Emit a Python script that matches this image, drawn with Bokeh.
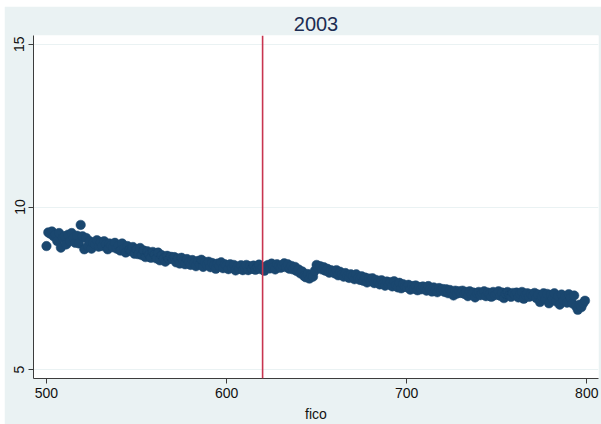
from bokeh.plotting import figure
from bokeh.models import Span, FixedTicker, Range1d
from bokeh.embed import file_html
from bokeh.resources import INLINE

title_text = "2003"
x_label = "fico"
cutoff = 620
x_ticks = [500, 600, 700, 800]
y_ticks = [5, 10, 15]

fico = list(range(500, 800))
rate = [
    8.80, 9.22, 9.18, 9.25, 9.10, 9.15, 8.95, 9.20, 8.75, 9.05,
    9.10, 8.85, 9.15, 8.95, 9.20, 9.05, 8.90, 9.12, 8.88, 9.45,
    9.10, 8.70, 9.05, 8.80, 8.95, 8.72, 8.90, 8.85, 8.98, 8.78,
    8.92, 8.80, 8.95, 8.85, 8.70, 8.88, 8.82, 8.76, 8.90, 8.72,
    8.82, 8.66, 8.88, 8.72, 8.60, 8.80, 8.68, 8.64, 8.77, 8.56,
    8.70, 8.55, 8.74, 8.52, 8.66, 8.46, 8.64, 8.54, 8.44, 8.62,
    8.54, 8.42, 8.60, 8.36, 8.52, 8.42, 8.32, 8.50, 8.40, 8.47,
    8.40, 8.46, 8.30, 8.42, 8.26, 8.44, 8.34, 8.24, 8.40, 8.31,
    8.22, 8.37, 8.28, 8.18, 8.34, 8.24, 8.38, 8.16, 8.30, 8.22,
    8.32, 8.15, 8.28, 8.20, 8.10, 8.26, 8.18, 8.30, 8.12, 8.24,
    8.20, 8.09, 8.24, 8.13, 8.22, 8.05, 8.17, 8.10, 8.21, 8.06,
    8.15, 8.22, 8.06, 8.18, 8.10, 8.20, 8.07, 8.16, 8.23, 8.09,
    8.13, 8.04, 8.17, 8.22, 8.11, 8.26, 8.14, 8.08, 8.24, 8.18,
    8.13, 8.22, 8.27, 8.15, 8.24, 8.10, 8.19, 8.08, 8.16, 8.03,
    8.08, 7.96, 8.02, 7.88, 7.84, 7.94, 7.80, 7.92, 7.86, 8.04,
    8.22, 8.12, 8.18, 8.08, 8.15, 8.04, 8.10, 7.98, 8.06, 8.02,
    7.96, 8.06, 7.90, 8.01, 7.92, 7.86, 7.97, 7.88, 7.82, 7.93,
    7.88, 7.78, 7.93, 7.82, 7.76, 7.87, 7.73, 7.83, 7.68, 7.80,
    7.72, 7.81, 7.66, 7.76, 7.69, 7.62, 7.75, 7.64, 7.58, 7.71,
    7.62, 7.69, 7.56, 7.72, 7.59, 7.53, 7.67, 7.50, 7.63, 7.55,
    7.54, 7.61, 7.46, 7.57, 7.49, 7.59, 7.44, 7.54, 7.47, 7.56,
    7.50, 7.43, 7.57, 7.47, 7.40, 7.53, 7.45, 7.38, 7.51, 7.44,
    7.48, 7.39, 7.47, 7.35, 7.45, 7.37, 7.28, 7.43, 7.34, 7.41,
    7.36, 7.43, 7.33, 7.39, 7.26, 7.41, 7.32, 7.37, 7.22, 7.35,
    7.39, 7.29, 7.36, 7.41, 7.26, 7.37, 7.31, 7.24, 7.39, 7.29,
    7.34, 7.41, 7.27, 7.37, 7.20, 7.33, 7.39, 7.29, 7.24, 7.36,
    7.30, 7.37, 7.22, 7.33, 7.39, 7.18, 7.30, 7.35, 7.24, 7.32,
    7.28, 7.36, 7.20, 7.31, 7.08, 7.26, 7.35, 7.16, 7.33, 7.04,
    7.30, 7.18, 7.35, 7.10, 7.27, 7.00, 7.31, 7.13, 7.25, 7.06,
    7.32, 7.20, 7.04, 7.28, 6.95, 6.84, 7.00, 6.92, 7.04, 7.12,
]

FONT = "Liberation Sans"
REGION = "#EAF2F3"
OUTER = "#F6F6EE"
NAVY = "#1A476F"

p = figure(width=597, height=418, output_backend="svg", toolbar_location=None,
           x_range=Range1d(492.8, 806.5), y_range=Range1d(4.73, 15.27),
           min_border_left=29, min_border_right=3, min_border_top=29,
           min_border_bottom=42)
p.margin = (6, 0, 0, 4)
p.background_fill_color = "white"
p.border_fill_color = REGION
p.outline_line_color = None

p.title.text = title_text
p.title.align = "center"
p.title.text_font = FONT
p.title.text_font_size = "20px"
p.title.text_font_style = "normal"
p.title.text_color = "#1C2C52"
p.title.offset = 0

p.xgrid.grid_line_color = None
p.ygrid.grid_line_color = REGION
p.ygrid.grid_line_width = 1.2
p.ygrid.ticker = FixedTicker(ticks=y_ticks)

for ax in (p.xaxis[0], p.yaxis[0]):
    ax.axis_line_color = "#3C3C3C"
    ax.major_tick_line_color = "#3C3C3C"
    ax.major_tick_out = 5
    ax.major_tick_in = 0
    ax.minor_tick_line_color = None
    ax.major_label_text_font = FONT
    ax.major_label_text_font_size = "14px"
    ax.major_label_text_color = "#111111"
    ax.axis_label_text_font = FONT
    ax.axis_label_text_font_size = "14px"
    ax.axis_label_text_font_style = "normal"
    ax.axis_label_text_color = "#111111"

p.xaxis.ticker = FixedTicker(ticks=x_ticks)
p.yaxis.ticker = FixedTicker(ticks=y_ticks)
p.xaxis.axis_label = x_label
p.xaxis.axis_label_standoff = 5
p.xaxis.major_label_standoff = 4
p.yaxis.major_label_orientation = "vertical"
p.yaxis.major_label_standoff = 4

p.scatter(fico, rate, size=9.5, fill_color=NAVY, line_color=NAVY, line_width=0.5)

p.add_layout(Span(location=cutoff, dimension="height", line_color="#C8344F",
                  line_width=1.6))

html = file_html(p, INLINE)
html = html.replace("<body>", '<body style="margin:0;background:%s;">' % OUTER, 1)
open("out.html", "w").write(html)
